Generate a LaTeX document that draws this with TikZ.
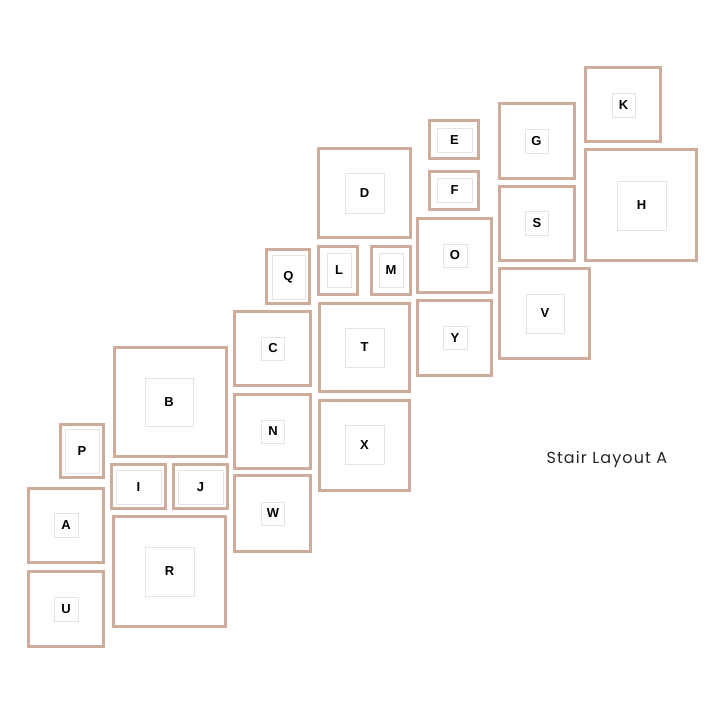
\documentclass[tikz,border=0pt]{standalone}
\usepackage{fontspec}
\setmainfont{Liberation Sans}
\newfontfamily\titlefont[LetterSpace=7]{Poppins}
\usetikzlibrary{positioning}
\definecolor{frametan}{RGB}{205,172,155}
\definecolor{matgray}{RGB}{228,228,228}
\tikzset{
  framebox/.style={draw=frametan, line width=2.6pt, rectangle, inner sep=0pt, outer sep=0pt},
  matbox/.style={draw=matgray, line width=0.8pt, fill=white, rectangle, inner sep=0pt,
    font=\bfseries\fontsize{13}{13}\selectfont},
}

\begin{document}
\begin{tikzpicture}[x=1pt, y=-1pt]
  \useasboundingbox (0,0) rectangle (720,720);
  %--- frames: name / centre / size / mat centre / mat size
  \foreach \n/\cx/\cy/\w/\h/\mx/\my/\mw/\mh in {
      A/66/525.5/75/74/66/525/24/24,
      U/66/609/75/75/66/609/24/24,
      P/82/451/43/53/82/451/34/44,
      I/138.5/486.5/54/44/138.5/487/45/34,
      J/200.5/486.5/54/44/200.5/487/45/34,
      B/170.5/402/112/109/169/402/48/48,
      R/169.5/571.5/112/110/169.5/571.5/49/49,
      Q/288/276.5/43/54/288.5/277/33/44,
      C/272.5/348.5/76/74/273/348.5/23/23,
      N/272.5/431.5/76/74/273/431.5/23/23,
      W/272.5/513.5/76/76/273/513.5/23/23,
      D/364.5/193/92/89/364.5/193/39/40,
      L/338/270.5/39/48/339/270/24/34,
      M/391/270.5/39/48/391/270/24/34,
      T/364.5/347.5/90/88/364.5/347.5/39/39,
      X/364.5/445.5/90/90/364.5/445/39/39,
      E/454/139.5/49/38/454.5/140/35/24,
      F/454/190.5/49/38/454.5/190/35/24,
      O/454.5/255.5/74/74/455/255.5/24/23,
      Y/454.5/338/74/75/455/338/24/23,
      G/537/141/75/75/536.5/141/23/24,
      S/537/223.5/75/74/537/223.5/23/24,
      V/544.5/313.5/90/90/545/313.5/38/39,
      K/623/104.5/75/74/623.5/105/23/24,
      H/641/205/111/111/641.5/205.5/49/49}
  {
    \node[framebox, minimum width=\w*1pt, minimum height=\h*1pt] (frame\n) at (\cx,\cy) {};
    \node[matbox, minimum width=\mw*1pt, minimum height=\mh*1pt] (mat\n) at (\mx,\my) {\n};
  }
  %--- title
  \node[anchor=base west, text=black!85, font=\titlefont\fontsize{16}{16}\selectfont] (title) at (543,463.5) {Stair Layout A};
\end{tikzpicture}
\end{document}
